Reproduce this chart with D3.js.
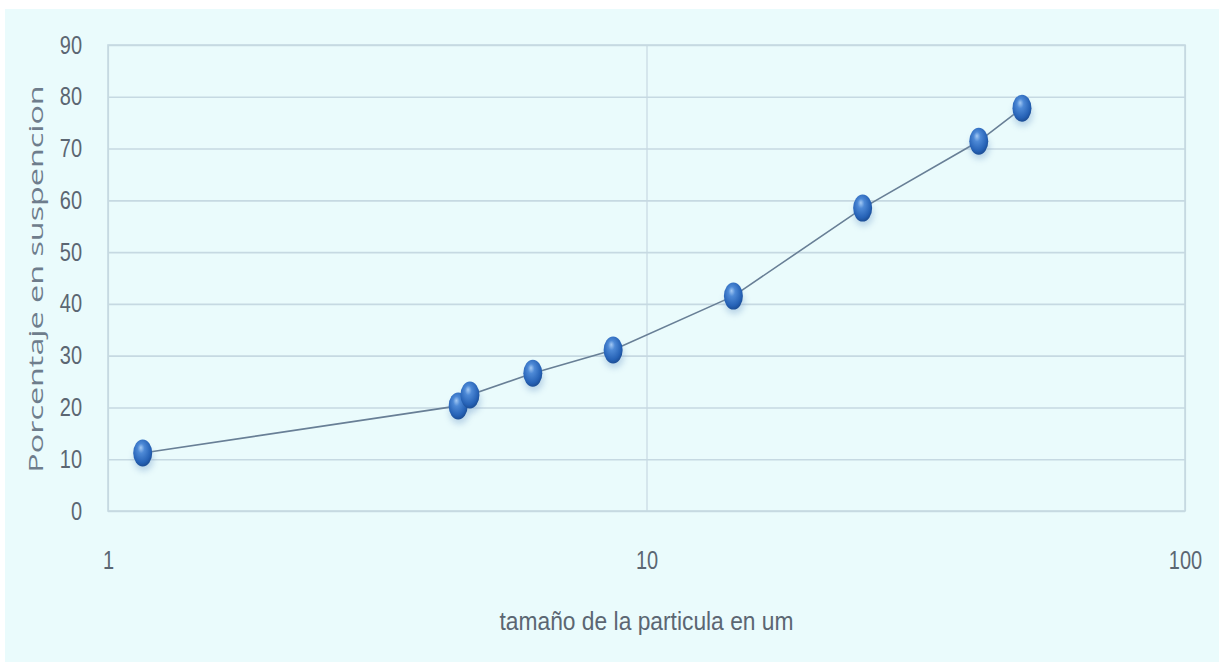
<!DOCTYPE html>
<html>
<head>
<meta charset="utf-8">
<script src="https://cdn.jsdelivr.net/npm/d3@7"></script>
<style>
  html, body { margin: 0; padding: 0; background: #ffffff; }
  svg { display: block; }
</style>
</head>
<body>
<svg id="chart" width="1219" height="662"></svg>
<script>
// ---- data ----
const particleSizes = [1.16, 4.47, 4.70, 6.15, 8.67, 14.5, 25.2, 41.4, 49.8];
const percentSuspended = [11.2, 20.3, 22.4, 26.6, 31.1, 41.5, 58.5, 71.4, 77.8];
const yTicks = [0, 10, 20, 30, 40, 50, 60, 70, 80, 90];
const xTicks = [1, 10, 100];
const xTitle = "tamaño de la particula en um";
const yTitle = "Porcentaje en suspencion";

(function () {
const svg = d3.select("#chart");
const W = 1219, H = 662;
const pL = 108, pR = 1185, pT = 45, pB = 511;

const defs = svg.append("defs");
const grad = defs.append("radialGradient").attr("id", "ball")
  .attr("cx", "45%").attr("cy", "40%").attr("r", "60%").attr("fx", "40%").attr("fy", "30%");
grad.append("stop").attr("offset", "0%").attr("stop-color", "#a3c9f4");
grad.append("stop").attr("offset", "30%").attr("stop-color", "#4d89d6");
grad.append("stop").attr("offset", "80%").attr("stop-color", "#2662b6");
grad.append("stop").attr("offset", "100%").attr("stop-color", "#1c4e96");
const sh = defs.append("filter").attr("id", "shadow").attr("x", "-50%").attr("y", "-50%").attr("width", "200%").attr("height", "200%");
sh.append("feGaussianBlur").attr("stdDeviation", 3);

// background
svg.append("rect").attr("x", 5).attr("y", 9).attr("width", W - 5).attr("height", H - 9)
  .attr("fill", "#eafbfc");

const x = d3.scaleLog().domain([1, 100]).range([pL, pR]);
const y = d3.scaleLinear().domain([0, 90]).range([pB, pT]);

const gridColor = "#c6d9e2";
const tickColor = "#5b6672";

// y axis with gridlines
const yAxis = svg.append("g").attr("transform", `translate(${pL},0)`)
  .call(d3.axisLeft(y).tickValues(yTicks).tickSize(-(pR - pL)).tickPadding(26).tickFormat(d3.format("d")));
yAxis.select(".domain").remove();
yAxis.selectAll(".tick line").attr("stroke", gridColor).attr("stroke-width", 1.6);
yAxis.selectAll(".tick text")
  .attr("font-family", "Liberation Sans, Arial, sans-serif").attr("font-size", 20)
  .attr("fill", tickColor).attr("transform", "scale(1,1.26)");

// x axis with vertical gridlines
const xAxis = svg.append("g").attr("transform", `translate(0,${pB})`)
  .call(d3.axisBottom(x).tickValues(xTicks).tickSize(-(pB - pT)).tickFormat(d3.format("d")));
xAxis.select(".domain").remove();
xAxis.selectAll(".tick line").attr("stroke", gridColor).attr("stroke-width", 1.2);
xAxis.selectAll(".tick text")
  .attr("y", 0).attr("dy", "0.35em")
  .attr("font-family", "Liberation Sans, Arial, sans-serif").attr("font-size", 20)
  .attr("fill", tickColor).attr("transform", "translate(0,49) scale(1,1.26)");

// plot border
svg.append("rect").attr("x", pL).attr("y", pT).attr("width", pR - pL).attr("height", pB - pT)
  .attr("fill", "none").attr("stroke", gridColor).attr("stroke-width", 1.6);

// line
const pts = particleSizes.map((s, i) => [s, percentSuspended[i]]);
svg.append("path").datum(pts)
  .attr("d", d3.line().x(d => x(d[0])).y(d => y(d[1])))
  .attr("fill", "none").attr("stroke", "#687f96").attr("stroke-width", 1.6);

// marker shadows
svg.append("g").selectAll("ellipse").data(pts).join("ellipse")
  .attr("cx", d => x(d[0]) + 1).attr("cy", d => y(d[1]) + 6)
  .attr("rx", 10).attr("ry", 12)
  .attr("fill", "#7fa6cf").attr("opacity", 0.45).attr("filter", "url(#shadow)");
// markers
svg.append("g").selectAll("ellipse").data(pts).join("ellipse")
  .attr("cx", d => x(d[0])).attr("cy", d => y(d[1]))
  .attr("rx", 9.5).attr("ry", 13.5)
  .attr("fill", "url(#ball)");

// titles
svg.append("text")
  .attr("transform", `translate(${(pL + pR) / 2},621) scale(1,1.26)`)
  .attr("text-anchor", "middle").attr("dy", "0.35em")
  .attr("font-family", "Liberation Sans, Arial, sans-serif").attr("font-size", 20)
  .attr("textLength", 294).attr("lengthAdjust", "spacingAndGlyphs")
  .attr("fill", "#5b6672").text(xTitle);

svg.append("text")
  .attr("transform", `translate(36,279) rotate(-90) scale(1.3,1)`)
  .attr("text-anchor", "middle").attr("dy", "0.35em")
  .attr("font-family", "Open Sans, DejaVu Sans, sans-serif").attr("font-size", 20)
  .attr("textLength", 298).attr("lengthAdjust", "spacingAndGlyphs")
  .attr("fill", "#6e7d8c").text(yTitle);
})();
</script>
</body>
</html>
